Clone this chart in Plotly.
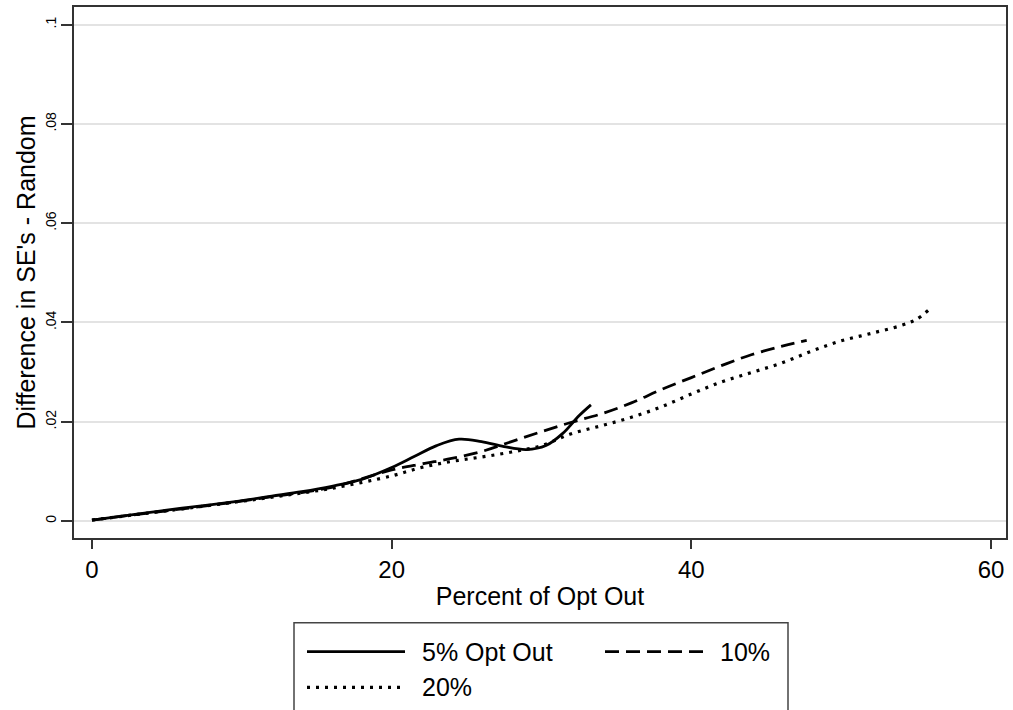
import plotly.graph_objects as go

# Data
x_5 = [0, 2, 4, 6, 8, 10, 12, 14, 16, 18, 20, 21.5, 23, 24.5, 26, 27.5, 29, 30.3, 31.4, 32.5, 33.3]
y_5 = [0.0002, 0.0010, 0.0018, 0.0026, 0.0033, 0.0041, 0.0050, 0.0059, 0.0070, 0.0084, 0.0108,
       0.0130, 0.0152, 0.0165, 0.0160, 0.0150, 0.0144, 0.0152, 0.0176, 0.0212, 0.0234]

x_10 = [0, 4, 8, 12, 16, 20, 22, 24, 26, 28, 30, 32, 34, 36, 38, 40, 42, 44, 46, 47.7]
y_10 = [0.0002, 0.0017, 0.0032, 0.0049, 0.0068, 0.0103, 0.0115, 0.0126, 0.0140, 0.0160,
        0.0180, 0.0199, 0.0216, 0.0238, 0.0265, 0.0289, 0.0313, 0.0335, 0.0352, 0.0364]

x_20 = [0, 4, 8, 12, 16, 20, 22, 24, 26, 28, 30, 32, 34, 36, 38, 40, 42, 44, 46, 48, 50, 52, 54, 55, 55.8]
y_20 = [0.0002, 0.0017, 0.0032, 0.0048, 0.0066, 0.0091, 0.0108, 0.0120, 0.0129, 0.0139,
        0.0152, 0.0176, 0.0192, 0.0209, 0.0230, 0.0256, 0.0280, 0.0299, 0.0318, 0.0342,
        0.0363, 0.0378, 0.0394, 0.0406, 0.0424]

series_names = ["5% Opt Out", "10%", "20%"]
series_dash = ["solid", "14px,7px", "3px,6px"]
series_width = [2.8, 2.8, 3.2]

x_ticks = [0, 20, 40, 60]
y_ticks = [0, 0.02, 0.04, 0.06, 0.08, 0.1]
y_tick_labels = ["0", ".02", ".04", ".06", ".08", ".1"]

FONT = "Liberation Sans, Arial, Helvetica, sans-serif"
W, H = 1013, 710
ML, MR, MT, MB = 74, 7, 5, 172
PW, PH = W - ML - MR, H - MT - MB


def px_to_paper(px, py):
    return (px - ML) / PW, (H - MB - py) / PH


fig = go.Figure()
for xs, ys, name, dash, lw in zip([x_5, x_10, x_20], [y_5, y_10, y_20], series_names, series_dash, series_width):
    fig.add_trace(go.Scatter(x=xs, y=ys, mode="lines", name=name, showlegend=False,
                             line=dict(color="black", width=lw, dash=dash, shape="spline")))

# Manual legend (box, line samples and labels), positioned in paper coordinates
shapes = []
annotations = []
bx0, by0 = px_to_paper(294, 623)
bx1, by1 = px_to_paper(788, 760)
shapes.append(dict(type="rect", xref="paper", yref="paper", x0=bx0, x1=bx1, y0=by1, y1=by0,
                   line=dict(color="#444444", width=1.5), fillcolor="white", layer="above"))
legend_slots = [(307, 652), (605, 652), (307, 688)]
for (sx, sy), name, dash, lw in zip(legend_slots, series_names, series_dash, series_width):
    lx0, ly = px_to_paper(sx, sy)
    lx1, _ = px_to_paper(sx + 98, sy)
    shapes.append(dict(type="line", xref="paper", yref="paper", x0=lx0, x1=lx1, y0=ly, y1=ly,
                       line=dict(color="black", width=lw, dash=dash), layer="above"))
    tx, _ = px_to_paper(sx + 113, sy)
    annotations.append(dict(xref="paper", yref="paper", x=tx, y=ly, xanchor="left", yanchor="middle",
                            text=name, showarrow=False, font=dict(size=25, family=FONT, color="black")))

fig.update_layout(
    width=W, height=H,
    margin=dict(l=ML, r=MR, t=MT, b=MB),
    paper_bgcolor="white", plot_bgcolor="white",
    font=dict(family=FONT, color="black"),
    showlegend=False,
    shapes=shapes,
    annotations=annotations,
    xaxis=dict(
        range=[-1.2, 61], tickmode="array", tickvals=x_ticks,
        ticks="outside", ticklen=9, tickwidth=1.5, tickcolor="#333333",
        showgrid=False, zeroline=False,
        showline=True, linecolor="#333333", linewidth=1.5, mirror=True,
        tickfont=dict(size=24), title=dict(text="Percent of Opt Out", font=dict(size=25), standoff=6),
    ),
    yaxis=dict(
        range=[-0.00342, 0.10356], tickmode="array", tickvals=y_ticks, ticktext=y_tick_labels,
        tickangle=-90,
        ticks="outside", ticklen=11, tickwidth=1.5, tickcolor="#333333",
        showgrid=True, gridcolor="#e3e3e3", gridwidth=1.5, zeroline=False,
        showline=True, linecolor="#333333", linewidth=1.5, mirror=True,
        tickfont=dict(size=14), title=dict(text="Difference in SE's - Random", font=dict(size=25), standoff=0),
    ),
)

fig.write_html("out.html")
